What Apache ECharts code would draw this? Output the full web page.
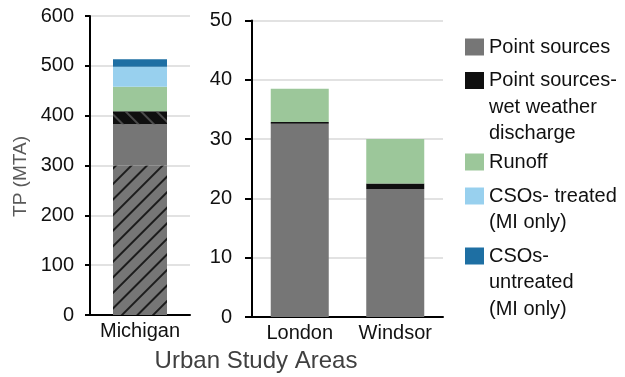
<!DOCTYPE html>
<html>
<head>
<meta charset="utf-8">
<script src="https://cdn.jsdelivr.net/npm/echarts@6/dist/echarts.min.js"></script>
<style>
  html, body { margin: 0; padding: 0; background: #ffffff; }
  #chart { width: 625px; height: 377px; }
</style>
</head>
<body>
<div id="chart"></div>
<script>
// Categories for the two panels
const miCategories = ['Michigan'];
const onCategories = ['London', 'Windsor'];

// Michigan loads (MTA); point sources split into hatched base and solid remainder
const miPointHatched = [300];
const miPointSolid = [83];
const miWetWeather = [26];
const miRunoff = [49];
const miCsoTreated = [40];
const miCsoUntreated = [15];

// London / Windsor loads (MTA)
const onPoint = [32.6, 21.6];
const onWetWeather = [0.3, 0.9];
const onRunoff = [5.6, 7.5];

// Series names and the wrapped text shown in the legend
const seriesNames = [
  'Point sources',
  'Point sources- wet weather discharge',
  'Runoff',
  'CSOs- treated (MI only)',
  'CSOs- untreated (MI only)'
];
const legendText = [
  'Point sources',
  'Point sources-\nwet weather\ndischarge',
  'Runoff',
  'CSOs- treated\n(MI only)',
  'CSOs-\nuntreated\n(MI only)'
];

const colors = {
  point: '#767676',
  wet: '#0f0f0f',
  runoff: '#9cc79a',
  treated: '#98d0ee',
  untreated: '#1e6fa3'
};
const seriesColors = [colors.point, colors.wet, colors.runoff, colors.treated, colors.untreated];

const hatchPoint = {
  symbol: 'rect', symbolSize: 1,
  dashArrayX: [1, 0], dashArrayY: [1.5, 8.5],
  rotation: -Math.PI / 4, color: '#1c1c1c'
};
const hatchWet = {
  symbol: 'rect', symbolSize: 1,
  dashArrayX: [1, 0], dashArrayY: [1.5, 8.5],
  rotation: Math.PI / 4, color: '#4a4a4a'
};

const textColor = '#111111';
const fontFamily = 'Liberation Sans, Arial, sans-serif';
const gridLine = { show: true, lineStyle: { color: '#d9d9d9', width: 1.5 } };
const axisLineStyle = { show: true, lineStyle: { color: '#000000', width: 2 } };

function bar(name, data, xi, stack, color, width) {
  return {
    type: 'bar', name: name, data: data,
    xAxisIndex: xi, yAxisIndex: xi, stack: stack,
    barWidth: width,
    itemStyle: { color: color },
    emphasis: { disabled: true },
    animation: false
  };
}

// One legend block per entry: blank lines are prepended so that the
// first text line sits level with the colour swatch.
const LH = 26.5;
const legendCenters = [47, 80.5, 162, 196, 256];
const legends = seriesNames.map(function (name, i) {
  const lines = legendText[i].split('\n');
  const n = lines.length;
  const padded = new Array(n - 1).fill(' ').concat(lines).join('\n');
  return {
    data: [{ name: name, icon: 'rect', itemStyle: { color: seriesColors[i] } }],
    left: 465,
    top: legendCenters[i] - (2 * n - 1) * LH / 2,
    orient: 'vertical',
    padding: 0,
    itemWidth: 19,
    itemHeight: 17,
    selectedMode: false,
    formatter: function () { return padded; },
    textStyle: {
      fontFamily: fontFamily,
      fontSize: 20,
      color: textColor,
      lineHeight: LH
    }
  };
});

const option = {
  backgroundColor: '#ffffff',
  animation: false,
  textStyle: { fontFamily: fontFamily },
  title: {
    text: 'Urban Study Areas',
    left: 256,
    top: 349,
    textAlign: 'center',
    padding: 0,
    textStyle: { fontSize: 24, fontWeight: 'normal', color: '#404040', fontFamily: fontFamily }
  },
  legend: legends,
  grid: [
    { left: 90, top: 16, width: 100, height: 299 },
    { left: 252, top: 20.5, width: 191, height: 296.5 }
  ],
  xAxis: [
    {
      type: 'category', gridIndex: 0, data: miCategories,
      axisLine: axisLineStyle, axisTick: { show: false },
      axisLabel: { fontSize: 20, color: textColor, margin: 6 }
    },
    {
      type: 'category', gridIndex: 1, data: onCategories,
      axisLine: axisLineStyle, axisTick: { show: false },
      axisLabel: { fontSize: 20, color: textColor, margin: 6 }
    }
  ],
  yAxis: [
    {
      type: 'value', gridIndex: 0, min: 0, max: 600, interval: 100,
      name: 'TP (MTA)', nameLocation: 'middle', nameGap: 60,
      nameTextStyle: { fontSize: 19, color: '#595959', padding: [0, 22, 0, 0] },
      axisLine: axisLineStyle,
      axisTick: { show: true, length: 5, lineStyle: { color: '#000', width: 2 } },
      axisLabel: { fontSize: 20, color: textColor, margin: 16 },
      splitLine: gridLine
    },
    {
      type: 'value', gridIndex: 1, min: 0, max: 50, interval: 10,
      axisLine: axisLineStyle,
      axisTick: { show: true, length: 7, lineStyle: { color: '#000', width: 2 } },
      axisLabel: { fontSize: 20, color: textColor, margin: 20 },
      splitLine: gridLine
    }
  ],
  series: [
    bar(seriesNames[0], miPointHatched.map(function (v) { return { value: v, itemStyle: { decal: hatchPoint } }; }), 0, 'mi', colors.point, 54),
    bar(seriesNames[0], miPointSolid, 0, 'mi', colors.point, 54),
    bar(seriesNames[1], miWetWeather.map(function (v) { return { value: v, itemStyle: { decal: hatchWet } }; }), 0, 'mi', colors.wet, 54),
    bar(seriesNames[2], miRunoff, 0, 'mi', colors.runoff, 54),
    bar(seriesNames[3], miCsoTreated, 0, 'mi', colors.treated, 54),
    bar(seriesNames[4], miCsoUntreated, 0, 'mi', colors.untreated, 54),
    bar(seriesNames[0], onPoint, 1, 'on', colors.point, 58),
    bar(seriesNames[1], onWetWeather, 1, 'on', colors.wet, 58),
    bar(seriesNames[2], onRunoff, 1, 'on', colors.runoff, 58)
  ]
};

const chart = echarts.init(document.getElementById('chart'), null, { renderer: 'canvas' });
chart.setOption(option);
</script>
</body>
</html>
